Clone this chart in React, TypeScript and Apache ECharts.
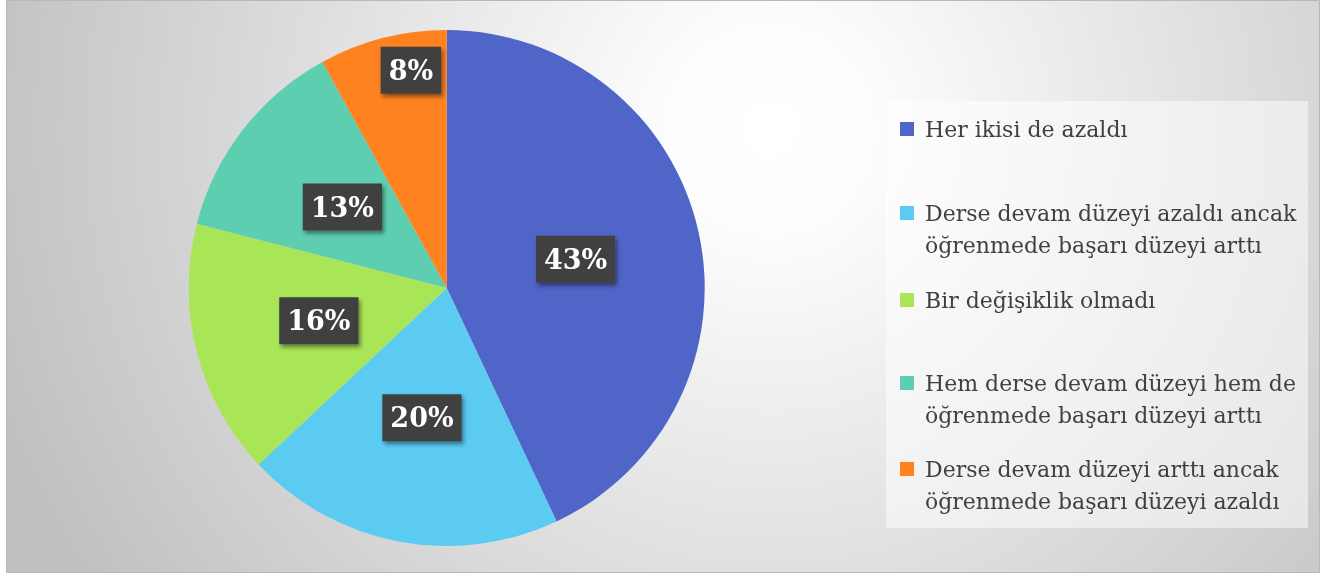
import React, { useEffect, useRef } from "react";
import * as echarts from "echarts";

const categories = [
  "Her ikisi de azaldı",
  "Derse devam düzeyi azaldı ancak öğrenmede başarı düzeyi arttı",
  "Bir değişiklik olmadı",
  "Hem derse devam düzeyi hem de öğrenmede başarı düzeyi arttı",
  "Derse devam düzeyi arttı ancak öğrenmede başarı düzeyi azaldı",
];
const values = [43, 20, 16, 13, 8];
const colors = ["#4F66C8", "#5BCBF2", "#A9E657", "#5DCFB0", "#FF8221"];

const legendFirstLineCenters = [129, 213, 300, 383, 469];
const LINE_H = 32;

function wrap(s: string, max: number): string[] {
  const words = s.split(" ");
  const lines: string[] = [];
  let cur = "";
  for (const w of words) {
    const t = cur ? cur + " " + w : w;
    if (t.length > max && cur) {
      lines.push(cur);
      cur = w;
    } else cur = t;
  }
  if (cur) lines.push(cur);
  return lines;
}

export default function App() {
  const ref = useRef<HTMLDivElement>(null);
  useEffect(() => {
    if (!ref.current) return;
    const chart = echarts.init(ref.current, undefined, { renderer: "svg" });
    const serif = "DejaVu Serif";
    const legends = categories.map((name, i) => {
      const n = wrap(name, 32).length;
      const H = (2 * n - 1) * LINE_H;
      return {
        data: [name],
        left: 900,
        top: legendFirstLineCenters[i] - H / 2,
        orient: "vertical",
        padding: 0,
        itemWidth: 14,
        itemHeight: 14,
        icon: "rect",
        selectedMode: false,
        formatter: (nm: string) => {
          const ls = wrap(nm, 32);
          const pad = new Array(ls.length - 1).fill(" ");
          return [...pad, ...ls].join("\n");
        },
        textStyle: {
          fontFamily: serif,
          fontSize: 22,
          color: "#404040",
          lineHeight: LINE_H,
          padding: [0, 0, 0, 6],
        },
      };
    });
    chart.setOption({
      animation: false,
      graphic: [
        {
          type: "rect",
          z: 0,
          shape: { x: 6.5, y: 0.5, width: 1313, height: 572 },
          style: {
            fill: {
              type: "radial",
              x: 770,
              y: 130,
              r: 820,
              global: true,
              colorStops: [
                { offset: 0, color: "#ffffff" },
                { offset: 0.12, color: "#fdfdfd" },
                { offset: 1, color: "#c0c0c0" },
              ],
            },
            stroke: "#b8b8b8",
            lineWidth: 1,
          },
        },
        {
          type: "rect",
          z: 1,
          shape: { x: 886, y: 101, width: 422, height: 427 },
          style: { fill: "rgba(255,255,255,0.5)" },
        },
      ],
      legend: legends,
      series: [
        {
          type: "pie",
          center: [446.7, 288],
          radius: 258,
          startAngle: 90,
          clockwise: true,
          percentPrecision: 0,
          itemStyle: { borderWidth: 0 },
          emphasis: { disabled: true },
          label: {
            show: true,
            position: "inside",
            formatter: "{d}%",
            fontFamily: serif,
            fontWeight: "bold",
            fontSize: 27,
            lineHeight: 30,
            color: "#ffffff",
            backgroundColor: "#404040",
            padding: [9, 8, 8, 8],
            shadowColor: "rgba(0,0,0,0.45)",
            shadowBlur: 4,
            shadowOffsetX: 2,
            shadowOffsetY: 3,
          },
          labelLine: { show: false },
          data: categories.map((name, i) => ({
            name,
            value: values[i],
            itemStyle: { color: colors[i] },
            ...(i === categories.length - 1
              ? { label: { offset: [-3, -90] } }
              : {}),
          })),
        },
      ],
    });
    return () => chart.dispose();
  }, []);
  return (
    <div
      ref={ref}
      style={{ position: "fixed", left: 0, top: 0, width: 1326, height: 576 }}
    />
  );
}
